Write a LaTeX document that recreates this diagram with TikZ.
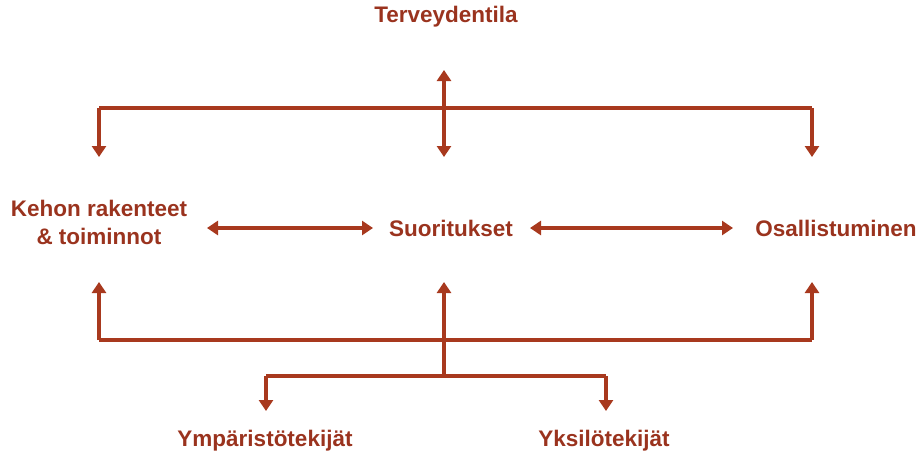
\documentclass[tikz,border=0pt]{standalone}
\usepackage{fontspec}
\setmainfont{Liberation Sans}
\usetikzlibrary{arrows.meta}
\definecolor{ic}{HTML}{A8391E}
\definecolor{tc}{HTML}{9A331E}
\begin{document}
\begin{tikzpicture}[x=1pt,y=-1pt,
  lbl/.style={font=\fontsize{22.5}{28}\selectfont\bfseries, text=tc, align=center, inner sep=0pt},
  tip/.tip={Triangle[width=14pt,length=11pt]},
  conn/.style={draw=ic, line width=3.6pt, -tip},
  conn2/.style={draw=ic, line width=3.6pt, tip-tip},
  plain/.style={draw=ic, line width=3.6pt}]
\useasboundingbox (0,0) rectangle (923,459);
\node[lbl] (ter) at (446,17) {Terveydentila};
\node[lbl] (keh) at (99,222) {Kehon rakenteet\\\& toiminnot};
\node[lbl] (suo) at (451,228) {Suoritukset};
\node[lbl] (osa) at (836,228) {Osallistuminen};
\node[lbl] (ymp) at (265,441) {Ympäristötekijät};
\node[lbl] (yks) at (604,441) {Yksilötekijät};
% top
\coordinate (tl) at (99,108);
\coordinate (tr) at (812,108);
\coordinate (tt) at (444,70);
\coordinate (tb) at (444,157);
\draw[plain] (tl) -- (tr);
\draw[conn2] (tt) -- (tb);
\draw[conn] (tl) -- (99,157);
\draw[conn] (tr) -- (812,157);
% middle
\draw[conn2] (207,228) -- (373,228);
\draw[conn2] (530,228) -- (733,228);
% bottom
\coordinate (bl) at (99,340);
\coordinate (br) at (812,340);
\coordinate (bm) at (444,376);
\draw[plain] (bl) -- (br);
\draw[conn] (bl) -- (99,282);
\draw[conn] (br) -- (812,282);
\draw[conn] (bm) -- (444,282);
\coordinate (ll) at (266,376);
\coordinate (lr) at (606,376);
\draw[plain] (ll) -- (lr);
\draw[conn] (ll) -- (266,411);
\draw[conn] (lr) -- (606,411);
\end{tikzpicture}
\end{document}
